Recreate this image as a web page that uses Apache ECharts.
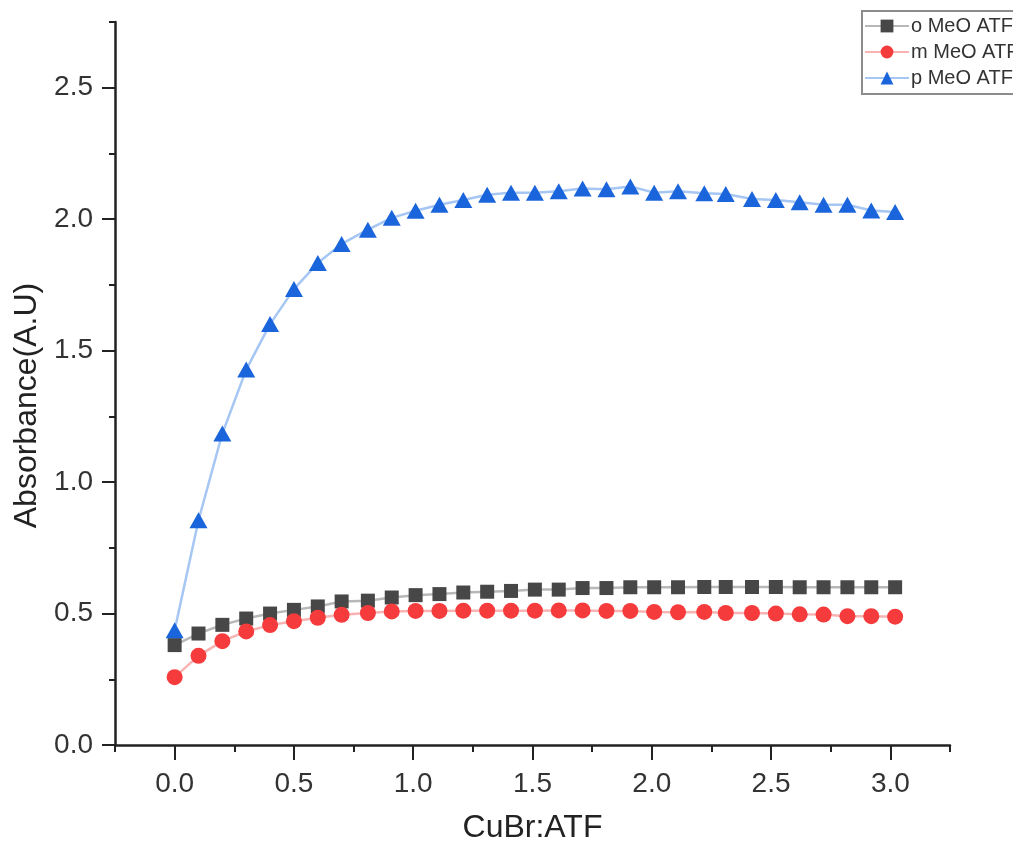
<!DOCTYPE html>
<html>
<head>
<meta charset="utf-8">
<script src="https://cdn.jsdelivr.net/npm/echarts@6/dist/echarts.min.js"></script>
<style>
html,body{margin:0;padding:0;background:#fff;}
#chart{width:1013px;height:841px;}
</style>
</head>
<body>
<div id="chart"></div>
<script>
var xValues = [0.00,0.10,0.20,0.30,0.40,0.50,0.60,0.70,0.81,0.91,1.01,1.11,1.21,1.31,1.41,1.51,1.61,1.71,1.81,1.91,2.01,2.11,2.22,2.31,2.42,2.52,2.62,2.72,2.82,2.92,3.02];
var oMeO = [0.380,0.424,0.457,0.481,0.500,0.514,0.527,0.546,0.549,0.561,0.570,0.574,0.580,0.583,0.586,0.591,0.591,0.597,0.597,0.600,0.600,0.600,0.601,0.601,0.601,0.601,0.600,0.600,0.600,0.600,0.600];
var mMeO = [0.258,0.339,0.395,0.432,0.456,0.471,0.484,0.495,0.502,0.508,0.510,0.510,0.511,0.511,0.511,0.511,0.512,0.512,0.510,0.510,0.506,0.505,0.506,0.502,0.502,0.500,0.497,0.496,0.490,0.490,0.488];
var pMeO = [0.436,0.855,1.185,1.428,1.601,1.734,1.833,1.906,1.960,2.005,2.032,2.055,2.073,2.093,2.101,2.101,2.106,2.117,2.114,2.124,2.101,2.106,2.099,2.096,2.077,2.073,2.064,2.055,2.055,2.033,2.027];
var seriesNames = ['o MeO ATF','m MeO ATF','p MeO ATF'];
var xMajorTicks = [0,0.5,1,1.5,2,2.5,3];
var yMajorTicks = [0,0.5,1,1.5,2,2.5];

function pairs(ys){ return ys.map(function(v,i){ return [xValues[i], v]; }); }
function isMajor(v){ return Math.abs(v*2 - Math.round(v*2)) < 1e-6; }

var FONT = 'Liberation Sans, Arial, sans-serif';
var chart = echarts.init(document.getElementById('chart'), null, {renderer:'canvas'});
chart.setOption({
  backgroundColor:'#ffffff',
  animation:false,
  grid:{left:115, right:63, top:22, bottom:96, containLabel:false, outerBoundsMode:'none'},
  legend:{
    orient:'vertical', left:862, top:11,
    data:seriesNames,
    itemWidth:44, itemHeight:16, itemGap:6,
    padding:[5,20,6,2],
    borderColor:'#8c8c8c', borderWidth:2, backgroundColor:'#fff',
    textStyle:{fontFamily:FONT, fontSize:20, color:'#333', padding:[0,0,0,-3]}
  },
  xAxis:[{
    type:'value', position:'bottom', min:-0.25, max:3.25, interval:0.25,
    name:'CuBr:ATF', nameLocation:'middle', nameGap:67,
    nameTextStyle:{fontFamily:FONT, fontSize:32, color:'#222'},
    axisLine:{show:true, onZero:false, lineStyle:{color:'#222', width:2.5}},
    axisTick:{show:true, inside:false, length:7, lineStyle:{color:'#222', width:2}},
    axisLabel:{margin:25, fontFamily:FONT, fontSize:28, color:'#333',
      formatter:function(v){ return (isMajor(v) && v>=0 && v<=3) ? v.toFixed(1) : ''; }},
    splitLine:{show:false}
  },{
    type:'value', position:'bottom', min:-0.25, max:3.25, interval:0.25,
    axisLine:{show:false, onZero:false},
    axisTick:{show:true, length:15, customValues:xMajorTicks, lineStyle:{color:'#222', width:2}},
    axisLabel:{show:false},
    splitLine:{show:false}
  }],
  yAxis:[{
    type:'value', position:'left', min:0, max:2.75, interval:0.25,
    name:'Absorbance(A.U)', nameLocation:'middle', nameGap:70, nameRotate:90,
    nameTextStyle:{fontFamily:FONT, fontSize:32, color:'#222', padding:[0,44,0,0]},
    axisLine:{show:true, onZero:false, lineStyle:{color:'#222', width:2.5}},
    axisTick:{show:true, inside:false, length:6, lineStyle:{color:'#222', width:2}},
    axisLabel:{margin:22, fontFamily:FONT, fontSize:28, color:'#333',
      formatter:function(v){ return (isMajor(v) && v<=2.5) ? v.toFixed(1) : ''; }},
    splitLine:{show:false}
  },{
    type:'value', position:'left', min:0, max:2.75, interval:0.25,
    axisLine:{show:false, onZero:false},
    axisTick:{show:true, length:13, customValues:yMajorTicks, lineStyle:{color:'#222', width:2}},
    axisLabel:{show:false},
    splitLine:{show:false}
  }],
  series:[{
    name:seriesNames[0], type:'line', xAxisIndex:0, yAxisIndex:0,
    data:pairs(oMeO), symbol:'rect', symbolSize:14,
    itemStyle:{color:'#474747'}, lineStyle:{color:'#b8b8b8', width:2.5}
  },{
    name:seriesNames[1], type:'line', xAxisIndex:0, yAxisIndex:0,
    data:pairs(mMeO), symbol:'circle', symbolSize:16,
    itemStyle:{color:'#f63b3d'}, lineStyle:{color:'#f9b3b3', width:2.5}
  },{
    name:seriesNames[2], type:'line', xAxisIndex:0, yAxisIndex:0,
    data:pairs(pMeO), symbol:'triangle', symbolSize:[18,16],
    itemStyle:{color:'#1a64dc'}, lineStyle:{color:'#a6c6f3', width:2.5}
  }]
});
</script>
</body>
</html>
